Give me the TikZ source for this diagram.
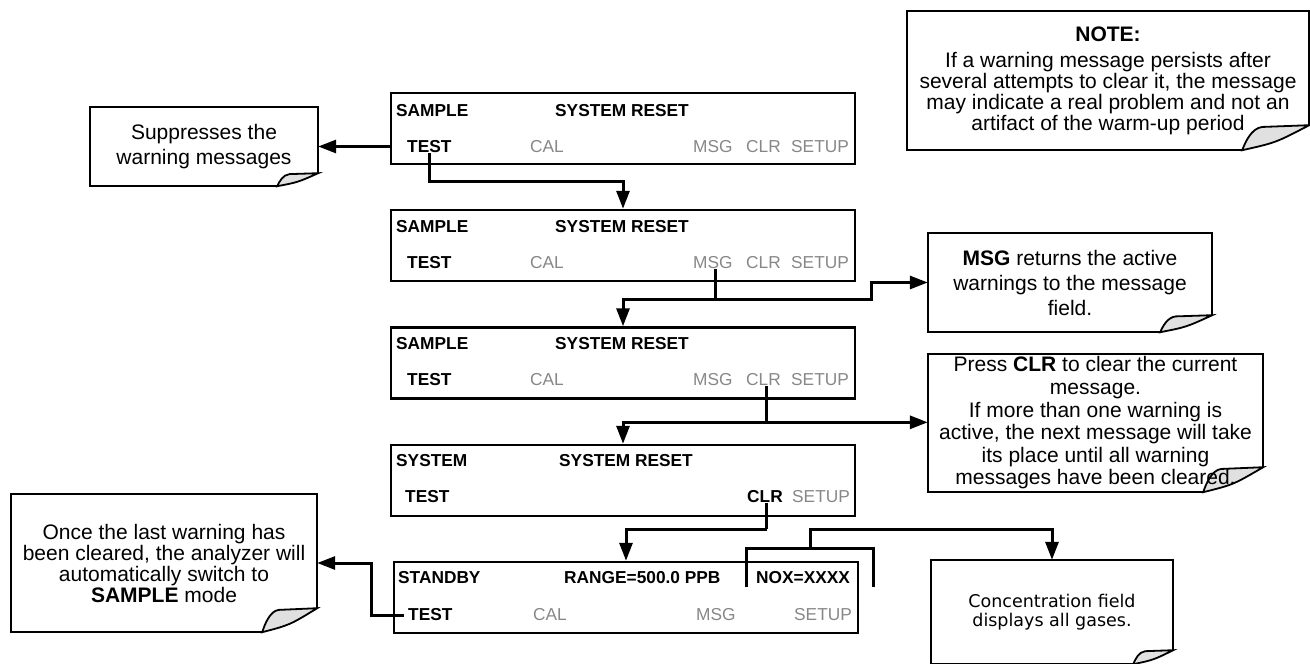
\documentclass[tikz,border=0pt]{standalone}
\usepackage{fontspec}
\setmainfont{Liberation Sans}
\newfontfamily\verd{DejaVu Sans}
\usetikzlibrary{arrows.meta,calc,backgrounds}
\definecolor{keygray}{RGB}{135,135,135}
\definecolor{foldgray}{RGB}{224,224,224}
\newcommand\dogear[3]{%
  \begin{pgfonlayer}{background}
  \draw[noteline] ($(#1.south east)+(-#2,0)$) -- (#1.south west) -- (#1.north west) -- (#1.north east) -- ($(#1.south east)+(0,-#3)$);
  \begin{scope}[shift={(#1.south east)}]
    \filldraw[noteline, fill=foldgray] (0,-#3) -- ({-0.7*#2},{-0.93*#3}) .. controls ({-0.86*#2},{-0.88*#3}) and ({-0.95*#2},{-0.35*#3}) .. ({-#2},0) .. controls ({-0.5*#2},{-0.3*#3}) .. (0,-#3) -- cycle;
  \end{scope}
  \end{pgfonlayer}}
\begin{document}
\begin{tikzpicture}[x=1pt,y=-1pt,
  screen/.style={draw, line width=2.5pt, inner sep=0pt, minimum width=464pt, minimum height=71pt},
  key/.style={anchor=west, inner sep=0pt, font=\fontsize{17.3}{17.3}\selectfont\bfseries},
  keyoff/.style={anchor=west, inner sep=0pt, font=\fontsize{17.3}{17.3}\selectfont, text=keygray},
  notebody/.style={inner sep=0pt, align=center},
  conn/.style={line width=3pt},
  arr/.style={-{Triangle[length=18pt,width=13pt]}},
  noteline/.style={line width=1.8pt, line join=miter},
]
\useasboundingbox (0,0) rectangle (1310,664);

% screens
\node[screen] (b1) at (623,128.5) {};
\node[key] (b1a) at (396,111) {SAMPLE};
\node[key] (b1b) at (555,111) {SYSTEM RESET};
\node[key] (b1test) at (407,147) {TEST};
\node[keyoff] (b1cal) at (530,147) {CAL};
\node[keyoff] (b1msg) at (693,147) {MSG};
\node[keyoff] (b1clr) at (746,147) {CLR};
\node[keyoff] (b1set) at (791,147) {SETUP};

\node[screen] (b2) at (623,245.5) {};
\node[key] (b2a) at (396,227) {SAMPLE};
\node[key] (b2b) at (555,227) {SYSTEM RESET};
\node[key] (b2test) at (407,263) {TEST};
\node[keyoff] (b2cal) at (530,263) {CAL};
\node[keyoff] (b2msg) at (693,263) {MSG};
\node[keyoff] (b2clr) at (746,263) {CLR};
\node[keyoff] (b2set) at (791,263) {SETUP};

\node[screen] (b3) at (623,363) {};
\node[key] (b3a) at (396,344) {SAMPLE};
\node[key] (b3b) at (555,344) {SYSTEM RESET};
\node[key] (b3test) at (407,380) {TEST};
\node[keyoff] (b3cal) at (530,380) {CAL};
\node[keyoff] (b3msg) at (693,380) {MSG};
\node[keyoff] (b3clr) at (746,380) {CLR};
\node[keyoff] (b3set) at (791,380) {SETUP};

\node[screen] (b4) at (623,480.5) {};
\node[key] (b4a) at (396,461) {SYSTEM};
\node[key] (b4b) at (559,461) {SYSTEM RESET};
\node[key] (b4test) at (405,497) {TEST};
\node[key] (b4clr) at (747,497) {CLR};
\node[keyoff] (b4set) at (792,497) {SETUP};

\node[screen] (b5) at (626,597.5) {};
\node[key] (b5a) at (398,578) {STANDBY};
\node[key] (b5b) at (564,578) {RANGE=500.0 PPB};
\node[key] (b5nox) at (756,578) {NOX=XXXX};
\node[key] (b5test) at (408,615) {TEST};
\node[keyoff] (b5cal) at (533,615) {CAL};
\node[keyoff] (b5msg) at (696,615) {MSG};
\node[keyoff] (b5set) at (794,615) {SETUP};

% notes
\node[notebody, minimum width=228pt, minimum height=79pt, font=\fontsize{21}{25}\selectfont] (sup) at (204,146.5) {Suppresses the\\warning messages};
\dogear{sup}{41}{13}

\node[notebody, minimum width=402pt, minimum height=139pt, font=\fontsize{21}{21}\selectfont] (notebox) at (1108,80.5) {\textbf{NOTE:}\\[5pt]If a warning message persists after\\several attempts to clear it, the message\\may indicate a real problem and not an\\artifact of the warm-up period};
\dogear{notebox}{67}{25}

\node[notebody, minimum width=284pt, minimum height=99pt, font=\fontsize{21}{25}\selectfont] (msgnote) at (1070,282.5) {\textbf{MSG} returns the active\\warnings to the message\\field.};
\dogear{msgnote}{52}{17}

\node[notebody, minimum width=335pt, minimum height=138pt, font=\fontsize{21}{22.6}\selectfont] (clrnote) at (1095.5,423) {Press \textbf{CLR} to clear the current\\message.\\If more than one warning is\\active, the next message will take\\its place until all warning\\messages have been cleared.};
\dogear{clrnote}{60}{25}

\node[notebody, minimum width=306pt, minimum height=138pt, font=\fontsize{21}{21}\selectfont] (oncenote) at (164,563) {Once the last warning has\\been cleared, the analyzer will\\automatically switch to\\\textbf{SAMPLE} mode};
\dogear{oncenote}{55}{24}

\node[notebody, minimum width=242pt, minimum height=104pt, font=\verd\fontsize{17.5}{19}\selectfont] (concnote) at (1052,612) {Concentration field\\displays all gases.};
\dogear{concnote}{40}{14}

% connectors
\draw[conn,arr] (b1.west |- sup.east) -- (sup.east);
\draw[conn,arr] (b1test.south) -- ++(0,28) -| (b2.north);

\draw[conn] ([xshift=3pt]b2msg.south) -- ++(0,30) coordinate (j2);
\draw[conn,arr] (j2) -| (b3.north);
\draw[conn,arr] (j2) -- ++(156,0) |- (msgnote.west);

\draw[conn] ([xshift=3pt]b3clr.south) -- ++(0,36) coordinate (j3);
\draw[conn,arr] (j3) -| (b4.north);
\draw[conn,arr] (j3) -- (j3 -| clrnote.west);

\draw[conn] ([xshift=2pt]b4clr.south) -- ++(0,26) coordinate (j4);
\draw[conn,arr] (j4) -| (b5.north);

\draw[conn,arr] ([xshift=-4pt]b5test.west) -- ++(-33,0) |- (oncenote.east);

\coordinate (brl) at (746,587);
\coordinate (brr) at (873,587);
\coordinate (brtop) at (810,548);
\draw[conn] (brl) |- (brtop) -| (brr);
\draw[conn,arr] (brtop) -- ++(0,-19) -| (concnote.north);
\end{tikzpicture}
\end{document}
